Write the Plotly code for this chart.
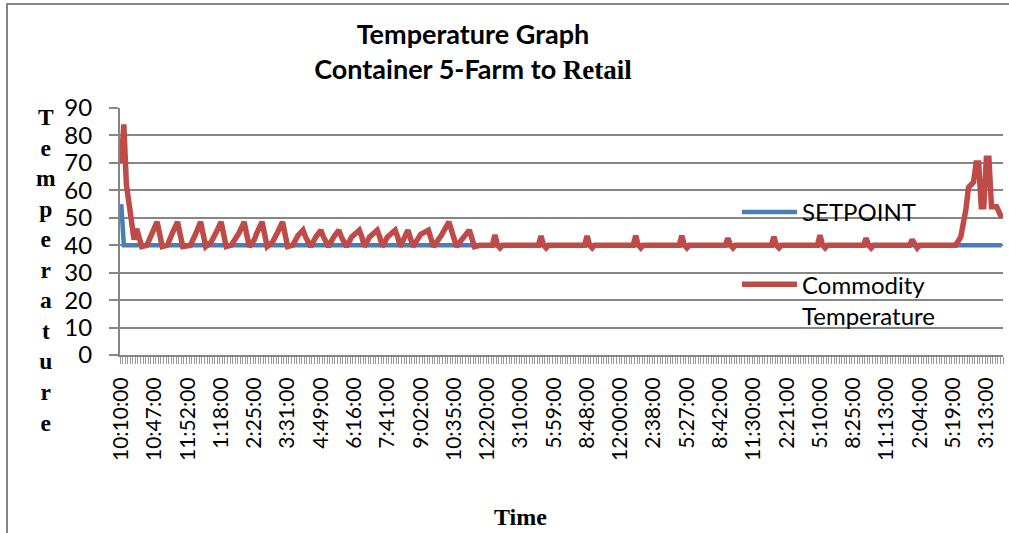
import plotly.graph_objects as go

# ---- data ----
time_labels = ["10:10:00", "10:47:00", "11:52:00", "1:18:00", "2:25:00", "3:31:00",
               "4:49:00", "6:16:00", "7:41:00", "9:02:00", "10:35:00", "12:20:00",
               "3:10:00", "5:59:00", "8:48:00", "12:00:00", "2:38:00", "5:27:00",
               "8:42:00", "11:30:00", "2:21:00", "5:10:00", "8:25:00", "11:13:00",
               "2:04:00", "5:19:00", "3:13:00"]
n_samples = 345
label_step = 13

setpoint_idx = [0, 1, 344]
setpoint_temp = [55, 40, 40]

commodity_idx = [0, 1, 2, 5, 6, 8,
                 10, 12, 14, 16, 18, 20, 22, 24, 27, 29, 31, 33, 35, 37, 39, 41,
                 43, 46, 48, 50, 52, 53, 55, 57, 59, 61, 63, 65,
                 67, 69, 71, 72, 74, 76, 78, 79, 81, 83, 85, 86, 88, 90, 93, 94, 95,
                 97, 100, 101, 102, 104, 107, 108, 109,
                 112, 114, 117, 120, 122, 125, 128, 131, 133, 136, 138, 140,
                 145, 146, 147, 148, 149,
                 163, 164, 165, 166, 167,
                 181, 182, 183, 184, 185,
                 200, 201, 202, 203, 204,
                 218, 219, 220, 221, 222,
                 236, 237, 238, 239, 240,
                 254, 255, 256, 257, 258,
                 272, 273, 274, 275, 276,
                 290, 291, 292, 293, 294,
                 308, 309, 310, 311, 312,
                 325, 326, 328, 330, 331, 333, 334, 335, 336, 337, 338, 339, 340, 342, 344]
commodity_temp = [70, 84, 62, 42, 46, 39.5,
                  40, 44, 48.5, 39.5, 40, 44.5, 48.5, 39.5, 40, 44, 48.5, 39.5, 41, 44.5, 48.5, 39.5,
                  40, 44.5, 48.5, 39.5, 42, 44.5, 48.5, 39.5, 41, 44.5, 48.5, 39.5,
                  40, 43.5, 45.5, 43, 39.5, 43, 45.5, 43, 39.5, 43, 45.5, 43, 39.5, 43, 45.5, 43, 39.5,
                  43, 45.5, 43, 39.5, 43, 45.5, 43, 39.5,
                  45.5, 39.5, 44, 45.5, 39.5, 43.5, 48.5, 39.5, 42, 45.5, 39.5, 40,
                  40, 43.8, 40, 39, 40,
                  40, 43.4, 40, 39, 40,
                  40, 43.4, 40, 39, 40,
                  40, 43.5, 40, 39, 40,
                  40, 43.5, 40, 39, 40,
                  40, 42.6, 40, 39, 40,
                  40, 43.1, 40, 39, 40,
                  40, 43.7, 40, 39, 40,
                  40, 42.6, 40, 39, 40,
                  40, 42.0, 40, 39, 40,
                  40, 40, 43, 53, 61, 63, 70, 70, 54, 54, 71.7, 71.7, 54, 54, 50]

y_ticks = [0, 10, 20, 30, 40, 50, 60, 70, 80, 90]

# ---- styling ----
GRAY = "#868686"
BLUE = "#4A7EBB"
RED = "#BE4B48"
SANS = "Lato, 'Open Sans', sans-serif"
SERIF = "'Liberation Serif', 'Times New Roman', serif"

fig = go.Figure()
fig.add_trace(go.Scatter(x=setpoint_idx, y=setpoint_temp, mode="lines", name="SETPOINT",
                         legendgroup="a", line=dict(color=BLUE, width=4.5)))
fig.add_trace(go.Scatter(x=commodity_idx, y=commodity_temp, mode="lines",
                         name="Commodity<br>Temperature", legendgroup="b",
                         line=dict(color=RED, width=5.5)))

L, R, T, B = 120, 6, 108, 178
W, H = 1009, 533
pw, ph = W - L - R, H - T - B

def px_x(p):
    return (p - L) / pw

def px_y(p):
    return (H - B - p) / ph

tick_pos = [i * label_step for i in range(len(time_labels))]

fig.update_layout(
    width=W, height=H,
    margin=dict(l=L, r=R, t=T, b=B, autoexpand=False),
    paper_bgcolor="white", plot_bgcolor="white",
    font=dict(family=SANS, color="black"),
    title=dict(
        text="<b>Temperature Graph<br>Container 5-Farm to <span style=\"font-family:'Liberation Serif'\">Retail</span></b>",
        x=473 / W, xanchor="center", y=1 - 44 / H, yanchor="middle",
        xref="container", yref="container",
        font=dict(family=SANS, size=27, color="black")),
    xaxis=dict(
        range=[-0.5, n_samples - 0.5],
        tickmode="array", tickvals=tick_pos, ticktext=time_labels,
        tickangle=-90, ticks="", showgrid=False, zeroline=False,
        showline=True, linecolor=GRAY, linewidth=2,
        tickfont=dict(family=SANS, size=21, color="black"),
        ticklabelstandoff=12,
        minor=dict(tickmode="linear", tick0=-0.5, dtick=1, ticks="outside",
                   ticklen=7, tickcolor="#9a9a9a", tickwidth=1, showgrid=False),
        fixedrange=True),
    yaxis=dict(
        range=[0, 90], tickmode="array", tickvals=y_ticks,
        ticks="outside", ticklen=9, tickcolor=GRAY, tickwidth=2,
        showgrid=True, gridcolor=GRAY, gridwidth=2, zeroline=False,
        showline=True, linecolor=GRAY, linewidth=2,
        tickfont=dict(family=SANS, size=24, color="black"),
        ticklabelstandoff=12, fixedrange=True),
    legend=dict(x=px_x(737), y=px_y(190), xanchor="left", yanchor="top",
                bgcolor="rgba(0,0,0,0)", borderwidth=0, valign="top",
                tracegroupgap=38, itemwidth=55,
                font=dict(family=SANS, size=24, color="black")),
    showlegend=True,
)

fig.add_annotation(text="<b>" + "<br>".join("Temperature") + "</b>",
                   x=px_x(46), y=px_y(270), xref="paper", yref="paper",
                   xanchor="center", yanchor="middle", showarrow=False,
                   font=dict(family=SERIF, size=23.5, color="black"))
fig.add_annotation(text="<b>Time</b>", x=px_x(520), y=px_y(517), xref="paper", yref="paper",
                   xanchor="center", yanchor="middle", showarrow=False,
                   font=dict(family=SERIF, size=24, color="black"))

# chart-area border
fig.add_shape(type="rect", xref="paper", yref="paper",
              x0=px_x(7), x1=px_x(1030), y0=px_y(560), y1=px_y(4),
              line=dict(color=GRAY, width=2), fillcolor="rgba(0,0,0,0)", layer="below")

fig.write_html("out.html")
